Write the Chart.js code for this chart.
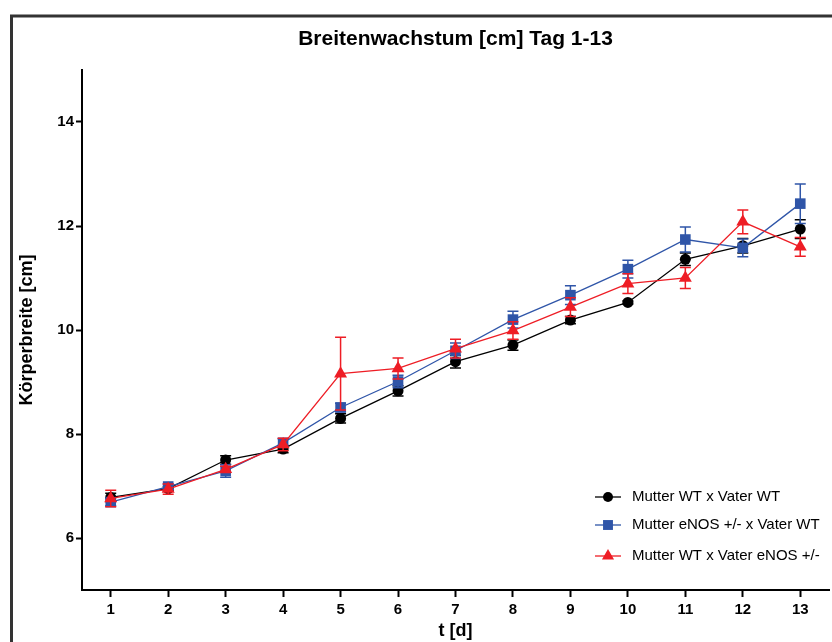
<!DOCTYPE html>
<html><head><meta charset="utf-8">
<script src="https://cdn.jsdelivr.net/npm/chart.js@4.4.0/dist/chart.umd.min.js"></script>
<style>html,body{margin:0;padding:0;background:#fff;overflow:hidden}#wrap{position:relative;width:832px;height:642px}</style>
</head><body><div id="wrap"><canvas id="c" width="832" height="642"></canvas></div>
<script>
const titleText = 'Breitenwachstum [cm] Tag 1-13';
const xTitle = 't [d]';
const yTitle = 'Körperbreite [cm]';
const days = [1,2,3,4,5,6,7,8,9,10,11,12,13];
const yTicks = [6,8,10,12,14];
const seriesNames = ['Mutter WT x Vater WT','Mutter eNOS +/- x Vater WT','Mutter WT x Vater eNOS +/-'];
const wtWt      = [6.78,6.95,7.50,7.71,8.30,8.83,9.39,9.71,10.19,10.53,11.36,11.62,11.94];
const wtWtErr   = [0.08,0.04,0.08,0.07,0.09,0.10,0.12,0.10,0.07,0.03,0.12,0.14,0.18];
const enosWt    = [6.69,6.99,7.29,7.83,8.51,9.01,9.60,10.20,10.67,11.17,11.74,11.58,12.43];
const enosWtErr = [0.07,0.05,0.12,0.08,0.08,0.12,0.15,0.16,0.18,0.17,0.24,0.17,0.38];
const wtEnos    = [6.76,6.94,7.32,7.80,9.16,9.26,9.64,9.99,10.44,10.89,11.00,12.08,11.60];
const wtEnosErr = [0.16,0.10,0.06,0.12,0.70,0.20,0.18,0.17,0.18,0.19,0.20,0.23,0.18];

const FONT = "'Liberation Sans', Arial, Helvetica, sans-serif";
const colors = ['#000000','#2f55a8','#ee1d25'];
const shapes = ['circle','rect','triangle'];
const radii = [5.5,7.5,7.5];
const values = [wtWt, enosWt, wtEnos];
const errors = [wtWtErr, enosWtErr, wtEnosErr];

const datasets = values.map((vals, k) => ({
  label: seriesNames[k],
  data: days.map((d, i) => ({x: d, y: vals[i]})),
  errors: errors[k],
  borderColor: colors[k],
  backgroundColor: colors[k],
  pointBackgroundColor: colors[k],
  pointBorderColor: colors[k],
  pointStyle: shapes[k],
  pointRadius: radii[k],
  pointBorderWidth: 0,
  borderWidth: 1.3,
  tension: 0,
  order: 3 - k
}));

const framePlugin = {
  id: 'frame',
  beforeDraw(chart) {
    const ctx = chart.ctx;
    ctx.save();
    ctx.fillStyle = '#fff';
    ctx.fillRect(0, 0, chart.width, chart.height);
    ctx.strokeStyle = '#333';
    ctx.lineWidth = 3;
    ctx.strokeRect(11.5, 16, 900, 700);
    ctx.restore();
  }
};

const errorPlugin = {
  id: 'errbars',
  beforeDatasetDraw(chart, args) {
    const ds = chart.data.datasets[args.index];
    const xs = chart.scales.x, ys = chart.scales.y;
    const ctx = chart.ctx;
    ctx.save();
    ctx.strokeStyle = ds.borderColor;
    ctx.lineWidth = 1.5;
    ds.data.forEach((p, i) => {
      const e = ds.errors[i];
      const x = xs.getPixelForValue(p.x);
      const yt = ys.getPixelForValue(p.y + e);
      const yb = ys.getPixelForValue(p.y - e);
      ctx.beginPath();
      ctx.moveTo(x, yt); ctx.lineTo(x, yb);
      ctx.moveTo(x - 5.5, yt); ctx.lineTo(x + 5.5, yt);
      ctx.moveTo(x - 5.5, yb); ctx.lineTo(x + 5.5, yb);
      ctx.stroke();
    });
    ctx.restore();
  }
};

const legendPlugin = {
  id: 'customLegend',
  afterDraw(chart) {
    const ctx = chart.ctx;
    const rows = [497, 525, 556];
    ctx.save();
    chart.data.datasets.forEach((ds, k) => {
      const y = rows[k];
      ctx.strokeStyle = ds.borderColor;
      ctx.lineWidth = 1.3;
      ctx.beginPath(); ctx.moveTo(595, y); ctx.lineTo(621, y); ctx.stroke();
      ctx.fillStyle = ds.backgroundColor;
      Chart.helpers.drawPoint(ctx, {pointStyle: ds.pointStyle, radius: ds.pointRadius - 0.5, borderWidth: 0, rotation: 0}, 608, y);
      ctx.fillStyle = '#000';
      ctx.font = '15px ' + FONT;
      ctx.textBaseline = 'middle';
      ctx.textAlign = 'left';
      ctx.fillText(ds.label, 632, y);
    });
    ctx.restore();
  }
};

new Chart(document.getElementById('c'), {
  type: 'line',
  data: { datasets },
  plugins: [framePlugin, errorPlugin, legendPlugin],
  options: {
    responsive: false,
    animation: false,
    devicePixelRatio: 1,
    layout: { autoPadding: false, padding: { left: 0, right: 3, top: 0, bottom: 0 } },
    plugins: {
      legend: { display: false },
      tooltip: { enabled: false },
      title: {
        display: true,
        text: titleText,
        fullSize: false,
        color: '#000',
        font: { family: FONT, size: 21, weight: 'bold', lineHeight: 1.2 },
        padding: { top: 27, bottom: 17.8 }
      }
    },
    scales: {
      x: {
        type: 'linear',
        min: 0.5, max: 13.5,
        afterBuildTicks: s => { s.ticks = days.map(v => ({ value: v })); },
        afterFit: s => { s.height = 52; s.paddingRight = 0; },
        grid: { drawOnChartArea: false, drawTicks: true, tickLength: 7, tickColor: '#000', tickWidth: 2 },
        border: { display: true, color: '#000', width: 2 },
        ticks: { color: '#000', font: { family: FONT, size: 15, weight: 'bold' }, padding: 4, maxRotation: 0, autoSkip: false },
        title: { display: true, text: xTitle, color: '#000', font: { family: FONT, size: 18, weight: 'bold', lineHeight: 1.2 }, padding: { top: 0, bottom: 0 } }
      },
      y: {
        type: 'linear',
        min: 5, max: 15,
        afterBuildTicks: s => { s.ticks = yTicks.map(v => ({ value: v })); },
        afterFit: s => { s.width = 82; },
        grid: { drawOnChartArea: false, drawTicks: true, tickLength: 6, tickColor: '#000', tickWidth: 2 },
        border: { display: true, color: '#000', width: 2 },
        ticks: { color: '#000', font: { family: FONT, size: 15, weight: 'bold' }, padding: 2 },
        title: { display: true, text: yTitle, color: '#000', font: { family: FONT, size: 18, weight: 'bold', lineHeight: 1.2 }, padding: { top: 16, bottom: 0 } }
      }
    }
  }
});
</script>
</body></html>
